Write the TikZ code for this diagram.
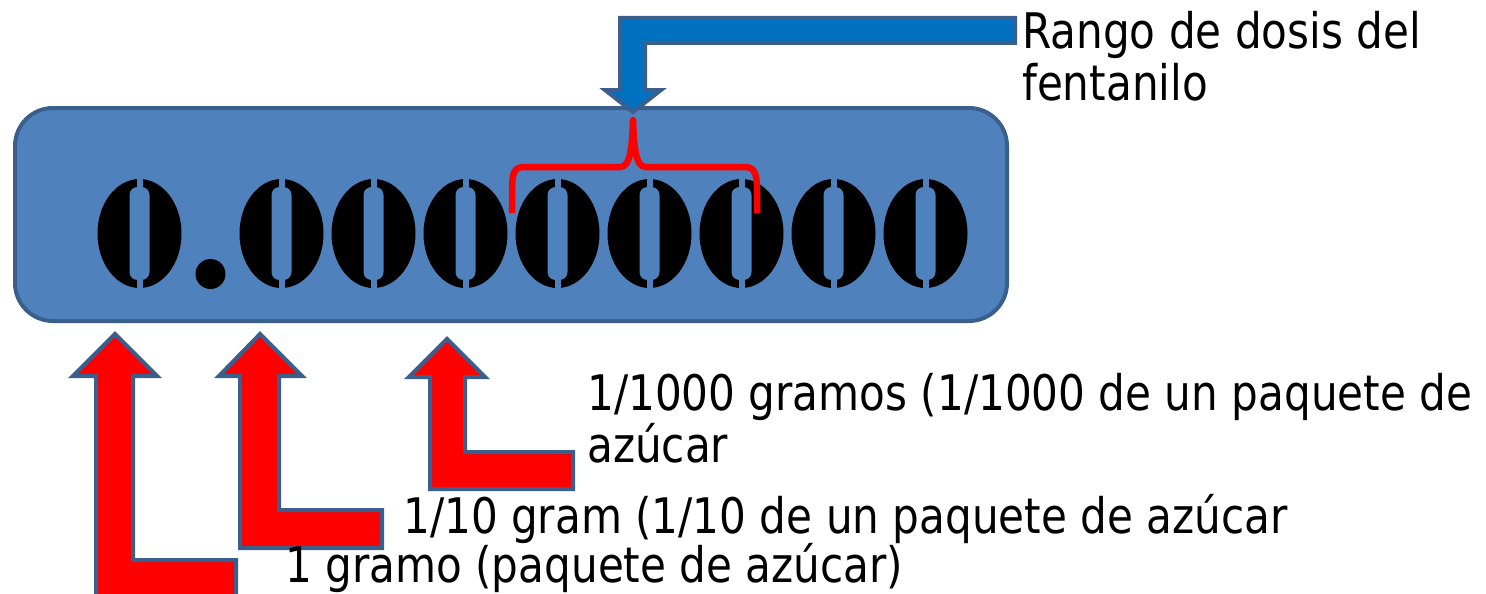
\documentclass[tikz,border=0pt]{standalone}
\usepackage{fontspec}
\setmainfont[FakeStretch=0.86]{DejaVu Sans}
\definecolor{boxfill}{HTML}{4F81BD}
\definecolor{boxline}{HTML}{3B5F8C}
\definecolor{pointer}{HTML}{0070C0}

\begin{document}
\begin{tikzpicture}[x=1pt, y=-1pt,
    lbl/.style={anchor=base west, inner sep=0pt, align=left, font=\fontsize{49}{52}\selectfont},
    uparrow/.style={fill=red, draw=boxline, line width=4pt, line join=miter}]
    \useasboundingbox (0, 0) rectangle (1486, 594);
    \clip (0, 0) rectangle (1486, 594);

    % the number
    \draw [fill=boxfill, draw=boxline, line width=4pt, rounded corners=38pt] (15, 108) rectangle (1007, 321);
    \foreach \cx in {139.5, 281.5, 373.5, 465.5, 557.5, 649.5, 741.5, 833.5, 925.5} {
        \fill [black] (\cx, 233.5) ellipse [x radius=42, y radius=54.5];
        \fill [boxfill, rounded corners=8pt] (\cx-10, 187) rectangle (\cx+10, 280);
        \fill [boxfill] (\cx-3, 176) rectangle (\cx+3, 291);
    }
    \fill [black] (210.5, 274) circle [radius=15];

    % brace and pointer
    \draw [red, line width=6.5pt, line join=round] (512, 213) -- (512, 195) .. controls (512, 170) and (514, 167) .. (526, 167) --
        (620, 167) .. controls (630, 167) and (632, 150) .. (633, 120) .. controls (634, 150) and (636, 167) .. (646, 167) --
        (744, 167) .. controls (755, 167) and (757, 172) .. (757, 195) -- (757, 213);
    \draw [fill=pointer, draw=boxline, line width=4pt] (1015, 18) -- (620, 18) -- (620, 90) -- (605, 90) -- (633, 112) --
        (661, 90) -- (645, 90) -- (645, 43) -- (1015, 43) -- cycle;
    % base of a two-line node is its last line
    \node [lbl] (rango) at (1022, 100) {Rango de dosis del\\fentanilo};

    % bent arrows
    \draw [uparrow] (96, 610) -- (96, 376) -- (73, 376) -- (115, 334) -- (157, 376) -- (133, 376) -- (133, 560) --
        (236, 560) -- (236, 610) -- cycle;
    \draw [uparrow] (240, 548) -- (240, 376) -- (219, 376) -- (260, 334) -- (302, 376) -- (279, 376) -- (279, 510) --
        (382, 510) -- (382, 548) -- cycle;
    \draw [uparrow] (430, 489) -- (430, 377) -- (409, 377) -- (447, 339) -- (485, 377) -- (465, 377) -- (465, 452) --
        (573, 452) -- (573, 489) -- cycle;

    \node [lbl] (milesima) at (587, 462) {1/1000 gramos (1/1000 de un paquete de\\azúcar};
    \node [lbl] (decima) at (403, 533) {1/10 gram (1/10 de un paquete de azúcar};
    \node [lbl] (gramo) at (285, 582) {1 gramo (paquete de azúcar)};
\end{tikzpicture}
\end{document}
